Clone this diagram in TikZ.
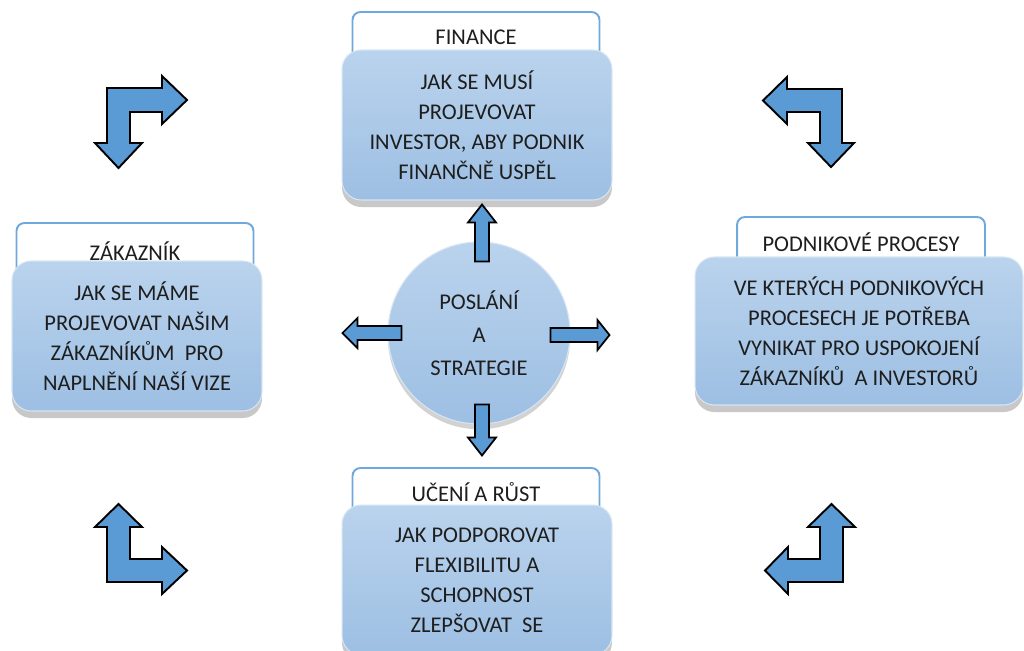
\documentclass[tikz,border=0pt]{standalone}
\usepackage{fontspec}
\setmainfont{Carlito}
\usetikzlibrary{shadows,calc}
\definecolor{arrowblue}{HTML}{5B9BD5}
\definecolor{boxtop}{HTML}{BAD3ED}
\definecolor{boxbot}{HTML}{9DBFE3}
\definecolor{hdrline}{HTML}{6FA8DC}
\definecolor{txt}{HTML}{1E1E1E}
\begin{document}
\begin{tikzpicture}[x=0.02cm,y=-0.02cm,
  every node/.style={text=txt},
  hdr/.style={draw=hdrline, line width=1.1pt, fill=white, rounded corners=4.5pt,
    inner sep=0pt, font=\fontsize{12.8}{17}\selectfont},
  mainbox/.style={rounded corners=11pt, top color=boxtop, bottom color=boxbot,
    draw=boxtop!60!white, line width=0.6pt, align=center, inner sep=0pt,
    font=\fontsize{12.8}{17}\selectfont,
    drop shadow={shadow xshift=0pt, shadow yshift=-4pt, opacity=0.3, fill=black!70}},
  hub/.style={circle, inner sep=0pt, minimum size=3.64cm, top color=boxtop, bottom color=boxbot,
    draw=boxtop!60!white, line width=0.6pt, align=center, font=\fontsize{12.8}{18.7}\selectfont,
    drop shadow={shadow xshift=0pt, shadow yshift=-3pt, opacity=0.25, fill=black!70}},
  blockarrow/.style={draw=black, line width=1pt, fill=arrowblue, line join=miter},
  cornerarrow/.style={draw=black, line width=1.1pt, fill=arrowblue, line join=miter}]
\useasboundingbox (0,0) rectangle (1024,650);
\clip (0,0) rectangle (1024,650);
\fill[white] (0,0) rectangle (1024,650);

% headers
\node[hdr, minimum width=4.94cm, minimum height=1cm] (hfin) at (476,37) {FINANCE};
\node[hdr, minimum width=4.74cm, minimum height=1.12cm] (hzak) at (135,251) {ZÁKAZNÍK};
\node[hdr, minimum width=4.96cm, minimum height=1cm] (hpro) at (861,242) {PODNIKOVÉ PROCESY};
\node[hdr, minimum width=4.94cm, minimum height=0.96cm] (huce) at (476,492) {UČENÍ A RŮST};

% main boxes
\node[mainbox, minimum width=5.4cm, minimum height=3cm] (bfin) at (477,125)
  {JAK SE MUSÍ\\PROJEVOVAT\\INVESTOR, ABY PODNIK\\FINANČNĚ USPĚL};
\node[mainbox, minimum width=5cm, minimum height=3cm] (bzak) at (137,336)
  {JAK SE MÁME\\PROJEVOVAT NAŠIM\\ZÁKAZNÍKŮM\ \ PRO\\NAPLNĚNÍ NAŠÍ VIZE};
\node[mainbox, minimum width=6.56cm, minimum height=2.96cm] (bpro) at (859,331)
  {VE KTERÝCH PODNIKOVÝCH\\PROCESECH JE POTŘEBA\\VYNIKAT PRO USPOKOJENÍ\\ZÁKAZNÍKŮ\ \ A INVESTORŮ};
\node[mainbox, minimum width=5.4cm, minimum height=3cm] (buce) at (477,580)
  {JAK PODPOROVAT\\FLEXIBILITU A\\SCHOPNOST\\ZLEPŠOVAT\ \ SE};

% hub
\node[hub] (c) at (479,333) {POSLÁNÍ\\A\\STRATEGIE};

% block arrows from hub towards the four boxes
\draw[blockarrow] ($(c.north)+(-4,20)$) -- ++(0,-39) -- ++(-7,0) -- ++(14,-18)
  -- ++(14,18) -- ++(-7,0) -- ++(0,39) -- cycle;
\draw[blockarrow] ($(c.south)+(-4,-20)$) -- ++(0,33) -- ++(-7,0) -- ++(14,18)
  -- ++(14,-18) -- ++(-7,0) -- ++(0,-33) -- cycle;
\draw[blockarrow] ($(c.east)+(-20,-5)$) -- ++(47,0) -- ++(0,-8) -- ++(12,15)
  -- ++(-12,15) -- ++(0,-8) -- ++(-47,0) -- cycle;
\draw[blockarrow] ($(c.west)+(14,-7)$) -- ++(-44,0) -- ++(0,-8) -- ++(-15,15)
  -- ++(15,15) -- ++(0,-8) -- ++(44,0) -- cycle;

% corner arrows
\draw[cornerarrow] (107,88) -- (162,88) -- (162,76) -- (187,100) -- (162,124) -- (162,112)
  -- (130,112) -- (130,143) -- (142,143) -- (118.5,168) -- (95,143) -- (107,143) -- cycle;
\draw[cornerarrow] (842,89) -- (842,143) -- (854,143) -- (831,167) -- (808,143) -- (820,143)
  -- (820,112) -- (787,112) -- (787,124) -- (763,100.5) -- (787,77) -- (787,89) -- cycle;
\draw[cornerarrow] (107,582) -- (107,527) -- (95,527) -- (118.5,504) -- (142,527) -- (130,527)
  -- (130,559) -- (162,559) -- (162,547) -- (187,570.5) -- (162,594) -- (162,582) -- cycle;
\draw[cornerarrow] (843,582) -- (843,527) -- (855,527) -- (831.5,504) -- (808,527) -- (820,527)
  -- (820,559) -- (788,559) -- (788,547) -- (765,570.5) -- (788,594) -- (788,582) -- cycle;
\end{tikzpicture}
\end{document}
